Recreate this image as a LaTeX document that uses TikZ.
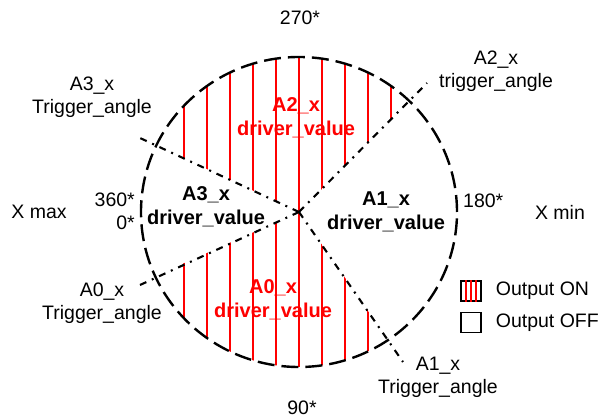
\documentclass[tikz,border=0pt]{standalone}
\usepackage{fontspec}
\setmainfont{Liberation Sans}
\usetikzlibrary{positioning}

\begin{document}
\begin{tikzpicture}[
  x=1pt, y=1pt,
  font=\fontsize{19.5}{23}\selectfont,
  lbl/.style={align=center, inner sep=0pt},
  sector/.style={align=center, inner sep=0pt,
    font=\fontsize{20}{24}\selectfont\bfseries},
  rim/.style={line width=2.4pt, dash pattern=on 17pt off 7pt},
  trig/.style={line width=2.1pt, dash pattern=on 7pt off 6pt on 2pt off 6pt},
  hatch/.style={red, line width=1.8pt},
  legbox/.style={draw, line width=1.3pt, minimum width=20pt,
    minimum height=20pt, inner sep=0pt}
]
\useasboundingbox (-299,-207) rectangle (303,212);

\coordinate (O) at (0,0);
\coordinate (t2) at (128,129);
\coordinate (t3) at (-159,74);
\coordinate (t0) at (-159,-73);
\coordinate (t1) at (104,-150);

% output ON sectors
\begin{scope}
  \clip (O) ellipse [x radius=158, y radius=155];
  \clip (O) -- (45:300) -- (90:300) -- (155:300) -- cycle;
  \foreach \k in {-5,...,4} \draw[hatch] (\k*23,0) -- (\k*23,160);
\end{scope}
\begin{scope}
  \clip (O) ellipse [x radius=158, y radius=155];
  \clip (O) -- (204:300) -- (270:300) -- (305:300) -- cycle;
  \foreach \k in {-5,...,3} \draw[hatch] (\k*23,0) -- (\k*23,-160);
\end{scope}

\draw[rim] (O) ellipse [x radius=158, y radius=155];
\draw[trig] (O) -- (t2);
\draw[trig] (O) -- (t3);
\draw[trig] (O) -- (t0);
\draw[trig] (O) -- (t1);

\node[lbl] (deg270) at (1,194) {270*};
\node[lbl] (deg90) at (3,-196) {90*};
\node[lbl, anchor=east, align=right] (deg0) at (-164,1) {360*\\0*};
\node[lbl, anchor=west] (deg180) at (164,11) {180*};
\node[lbl] (xmax) at (-260,0) {X max};
\node[lbl] (xmin) at (261,0) {X min};

\node[lbl] (trg2) at (197,141) {A2\_x\\trigger\_angle};
\node[lbl] (trg3) at (-207,115) {A3\_x\\Trigger\_angle};
\node[lbl] (trg0) at (-197,-91) {A0\_x\\Trigger\_angle};
\node[lbl] (trg1) at (139,-165) {A1\_x\\Trigger\_angle};

\node[sector, red] (drv2) at (-3,94) {A2\_x\\driver\_value};
\node[sector] (drv3) at (-93,5) {A3\_x\\driver\_value};
\node[sector] (drv1) at (87,0) {A1\_x\\driver\_value};
\node[sector, red] (drv0) at (-26,-88) {A0\_x\\driver\_value};

% legend
\node[legbox] (onbox) at (172,-79) {};
\foreach \dx in {-5,0,5}
  \draw[hatch, line width=1.3pt] ([xshift=\dx pt]onbox.north) -- ([xshift=\dx pt]onbox.south);
\node[lbl, right=14pt of onbox] (ontxt) {Output ON};
\node[legbox, below=10pt of onbox] (offbox) {};
\node[lbl, right=14pt of offbox] (offtxt) {Output OFF};
\end{tikzpicture}
\end{document}
